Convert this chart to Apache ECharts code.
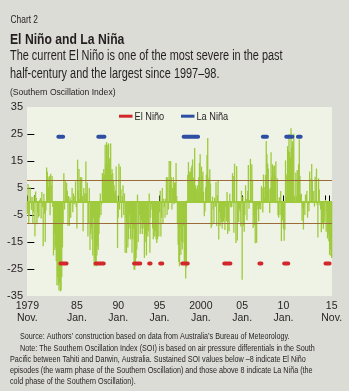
<!DOCTYPE html>
<html>
<head>
<meta charset="utf-8">
<script src="https://cdn.jsdelivr.net/npm/echarts@6/dist/echarts.min.js"></script>
<style>
  html, body { margin: 0; padding: 0; background: #dcdcd6; }
  #chart { width: 349px; height: 391px; }
</style>
</head>
<body>
<div id="chart"></div>
<script>
// Monthly Southern Oscillation Index, January 1979 to November 2015 (one row per year)
const START_YEAR = 1979;
const soi = [
  -4.5, 6.5, -8, -5.3, 5.4, 1.8, -3.1, 1.7, -8, -4, 2, -12.9,            // 1979
  3.7, 1.3, -8.4, -4, -5.9, -5.5, 0.6, 1.3, -6.3, 3.5, -2.1, -16.6,       // 1980
  2.9, -4.6, -15, -3.3, 12.6, 11, 9, 5.5, 9.5, -5.1, 10.3, 5.9,           // 1981
  9.4, -2, -20, -12, -18, -17, -22, -31, -28, -31, -33, -30,              // 1982
  -33.3, -33, -28, -17, -8, 10.5, -3, 8, 2, 7, 4, -9,                     // 1983
  2, -9, 1.5, -6, 0.5, 5, -4, 3, -1, 2, 7.5, -2,                          // 1984
  -10, 15.5, 4, 12, 1, 9, 3, 9, 2, -11, 5, 3,                             // 1985
  1, 14.8, 3, 7, -13, -8, 5, -18, -12, -10, -14, -20,                     // 1986
  -6, -24, -21, -23, -24, -20, -16.6, -18, -12, -6, 3, -5,                // 1987
  -1, 10.5, 9, 12, 10, 21, 14, 22, 21, 14, 21.5, 16,                      // 1988
  13, 21.5, 10, 12, 10.5, 8, 6, 3, 4, 13, 2, -17.2,                       // 1989
  -6, 14, -3, 13, 4.5, -6, 2, 6, -5, 3, -19, -6,                          // 1990
  -19.1, -8, -17, -14, -5, -10, -14, -8, -19, -14, -10, -25.3,            // 1991
  -25.3, -23, -21, -17.8, 2.5, -15, -8, -5, -12, -10, -7, -12,            // 1992
  -10, -8, -20.9, -15, -12, -20, -10, -13, -11, 3, -19, -6,               // 1993
  -1, -3, -10, -14, -5, -13, -11, -14, -15.4, -14, -8, -13,               // 1994
  -4, 4, -13, -6, 5, -8, 1, -2, -6, 1, 9, -5,                             // 1995
  9, -3, 15, 6, 15, 9, -3, 5, 9, -1, 7, 7,                                // 1996
  14.3, 2, -8, -16, -22.4, -24, -9.5, -19.8, -14.8, -17.8, -15.2, -9.1,   // 1997
  -23.5, -19.2, -28.5, -24.4, 0.5, 9.9, 14.6, 9.8, 11.1, 10.9, 12.5, 13.3,// 1998
  15.6, 8.6, 8.9, 19.8, 6, 1, 4.8, 6, 3, 9.1, 14.3, 17.5,                 // 1999
  5.1, 12.9, 9.4, 11, 3.6, -5.5, -3.7, 5.3, 9.9, 17.2, 23.5, 7.7,         // 2000
  8.9, 11.9, 6.7, -9.8, -9, 1.8, -3, -8.2, 1.4, -1.9, 7.2, -9.1,          // 2001
  2.3, 7.7, -14.1, -3.8, -9, -6.3, -7.6, -10, -7.6, -7.4, -6, -10.6,      // 2002
  -2, -7.4, 3.5, -12, -7.4, -11, 2.9, -1.8, -2.2, -1.9, 10.5, 9.4,        // 2003
  -11.6, 14, 0.2, -15.4, 13.1, -14.4, -6.9, -7.6, -2.8, -3.7, -9.3, 4,    // 2004
  -29, 1.8, -9, -11.2, -5, 6, 0.9, -6.9, 3.9, 13.5, -2.7, 0.6,            // 2005
  15.8, 0.1, 13.8, 8, -9.8, -5.5, -8.9, -15.5, -5.1, -15.3, -1.4, -3,     // 2006
  -7.3, -2.7, -1.4, -3, 5.7, 5, -4.1, 10, 1.5, 5.4, 9.8, 22.4,            // 2007
  17.5, 14, 12.2, 4.5, -4.3, 5.1, 18.2, 9.1, 13.8, 13.1, 10, 13.3,        // 2008
  9.4, 14.8, 0.2, 8.6, -5.1, -6, 1.6, -5, 3.9, -14.7, -6, -7,             // 2009
  -10.1, -14.5, -10.6, 15.2, 10, 1.8, 20.5, 18.8, 24.9, 18.3, 16.4, 27.1, // 2010
  19.9, 22.3, 21.4, 25.1, 2.1, 0.2, 10.7, 2.1, 11.7, 7.3, 13.8, 23,       // 2011
  9.4, 2.5, 2.9, -7.1, -2.7, -10.4, -1.8, -5, 2.6, 2.4, 3.9, -6,          // 2012
  -1.1, -3.6, 11.1, 0.2, 8.4, 13.9, 8.1, -0.5, 3.9, -1.9, 9.2, 0.6,       // 2013
  12.2, -1.3, -13.3, 8.6, 4.4, -1.5, -3, -11.4, -7.6, -8, -10.1, -5.4,    // 2014
  -7.8, 0.6, -11.2, -3.8, -13.7, -12, -14.7, -19.8, -17.8, -20.2, -20.9   // 2015
];

// Episode markers (first and last month of each run)
const elNinoPeriods = [
  ['1983-01', '1983-10'], ['1987-04', '1988-04'], ['1991-12', '1992-09'],
  ['1993-10', '1993-12'], ['1995-02', '1995-05'], ['1997-10', '1998-06'],
  ['2002-11', '2003-08'], ['2007-02', '2007-05'], ['2010-02', '2010-08'],
  ['2015-02', '2015-08']
];
const laNinaPeriods = [
  ['1982-10', '1983-01'], ['1983-03', '1983-05'], ['1987-08', '1988-05'],
  ['1997-12', '1999-09'], ['2000-06', '2000-07'], ['2007-07', '2008-01'],
  ['2008-09', '2008-10'], ['2010-05', '2011-02'], ['2011-10', '2012-02']
];
const EL_NINO_LEVEL = -23;
const LA_NINA_LEVEL = 24;
const THRESHOLDS = [8, -8];

// Axis ticks and labels
const yTickValues = [-25, -15, -5, 5, 15, 25];
const yLabelValues = [-35, -25, -15, -5, 5, 15, 25, 35];
const xTickMonths = ['1979-01', '1979-11', '1985-01', '1990-01', '1995-01', '2000-01', '2005-01', '2010-01', '2015-01', '2015-08'];
const xLabelMonths = ['1979-01', '1985-01', '1990-01', '1995-01', '2000-01', '2005-01', '2010-01', '2015-11'];
const xLabelYears = ['1979', '85', '90', '95', '2000', '05', '10', '15'];
const xLabelSubs = ['Nov.', 'Jan.', 'Jan.', 'Jan.', 'Jan.', 'Jan.', 'Jan.', 'Nov.'];

const FONT = "'Liberation Sans', Arial, sans-serif";
const TEXT = '#231f20';
const GREEN = '#9fca3c';
const RED = '#d2282c';
const BLUE = '#2d4ea2';
const BROWN = '#9c6c38';
const NARROW = 0.8;   // horizontal squeeze for the condensed typeface look

function monthIndex(s) {
  const [y, m] = s.split('-').map(Number);
  return (y - START_YEAR) * 12 + (m - 1);
}
function periodLine(periods, level) {
  const out = [];
  periods.forEach(([a, b]) => {
    out.push([monthIndex(a), level], [monthIndex(b), level], [monthIndex(b) + 0.5, null]);
  });
  return out;
}
const xLabelMap = {};
xLabelMonths.forEach((m, i) => { xLabelMap[monthIndex(m)] = xLabelYears[i] + '\n' + xLabelSubs[i]; });

const noteLines = [
  ['Source: Authors\u2019 construction based on data from Australia\u2019s Bureau of Meteorology.', 20],
  ['Note: The Southern Oscillation Index (SOI) is based on air pressure differentials in the South', 20],
  ['Pacific between Tahiti and Darwin, Australia. Sustained SOI values below \u20138 indicate El Ni\u00f1o', 10],
  ['episodes (the warm phase of the Southern Oscillation) and those above 8 indicate La Ni\u00f1a (the', 10],
  ['cold phase of the Southern Oscillation).', 10]
];

function txt(x, y, text, font, sx) {
  return { type: 'text', x: x, y: y, scaleX: sx, silent: true,
    style: { text: text, font: font, fill: TEXT, verticalAlign: 'top', align: 'left' } };
}

const graphics = [
  txt(10.5, 14.5, 'Chart 2', '10.5px ' + FONT, NARROW),
  txt(10, 32, 'El Ni\u00f1o and La Ni\u00f1a', 'bold 14.5px ' + FONT, 0.84),
  txt(10, 49.5, 'The current El Ni\u00f1o is one of the most severe in the past', '14px ' + FONT, 0.78),
  txt(10, 67.5, 'half-century and the largest since 1997\u201398.', '14px ' + FONT, 0.78),
  txt(10, 87.5, '(Southern Oscillation Index)', '9.5px ' + FONT, 0.9)
];
noteLines.forEach(([t, x], i) => graphics.push(txt(x, 332.5 + i * 11.1, t, '9px ' + FONT, 0.8)));

// legend drawn as swatch + squeezed label, matching the condensed type
const legendItems = [['El Ni\u00f1o', RED, 119], ['La Ni\u00f1a', BLUE, 181]];
legendItems.forEach(([name, color, x]) => {
  graphics.push({ type: 'rect', silent: true, shape: { x: x, y: 114.7, width: 13.5, height: 3 }, style: { fill: color } });
  graphics.push(txt(x + 15.5, 110.5, name, '11.5px ' + FONT, 0.8));
});

const chart = echarts.init(document.getElementById('chart'), null, { renderer: 'canvas' });
chart.setOption({
  animation: false,
  backgroundColor: '#dcdcd6',
  textStyle: { fontFamily: FONT },
  grid: { left: 27, right: 17, top: 107, bottom: 95, show: true, backgroundColor: '#eef3e6', borderWidth: 0 },
  xAxis: {
    type: 'value', min: -0.5, max: soi.length - 0.5,
    splitLine: { show: false },
    axisLine: { show: false },
    axisTick: { show: true, inside: true, length: 6, lineStyle: { color: '#000', width: 1 },
      customValues: xTickMonths.map(monthIndex) },
    axisLabel: { show: true, margin: 4, fontFamily: FONT, fontSize: 10.5, lineHeight: 12, color: TEXT,
      customValues: xLabelMonths.map(monthIndex),
      formatter: v => xLabelMap[Math.round(v)] || '' }
  },
  yAxis: {
    type: 'value', min: -35, max: 35,
    splitLine: { show: false },
    axisLine: { show: false },
    axisTick: { show: true, inside: true, length: 7, lineStyle: { color: '#000', width: 1 }, customValues: yTickValues },
    axisLabel: { margin: 4, fontFamily: FONT, fontSize: 11, color: TEXT, customValues: yLabelValues }
  },
  graphic: graphics,
  series: [
    {
      name: 'SOI', type: 'bar', data: soi.map((v, i) => [i, v]),
      barWidth: 1.3, itemStyle: { color: GREEN }, silent: true,
      markLine: {
        silent: true, symbol: ['none', 'none'], label: { show: false }, animation: false,
        data: [
          { yAxis: 0, lineStyle: { color: GREEN, width: 2, type: 'solid' } },
          { yAxis: THRESHOLDS[0], lineStyle: { color: BROWN, width: 1, type: 'solid' } },
          { yAxis: THRESHOLDS[1], lineStyle: { color: BROWN, width: 1, type: 'solid' } }
        ]
      }
    },
    {
      name: 'El Ni\u00f1o', type: 'line', data: periodLine(elNinoPeriods, EL_NINO_LEVEL),
      symbol: 'none', connectNulls: false, silent: true, z: 5,
      lineStyle: { color: RED, width: 4, cap: 'round' }, itemStyle: { color: RED }
    },
    {
      name: 'La Ni\u00f1a', type: 'line', data: periodLine(laNinaPeriods, LA_NINA_LEVEL),
      symbol: 'none', connectNulls: false, silent: true, z: 5,
      lineStyle: { color: BLUE, width: 4, cap: 'round' }, itemStyle: { color: BLUE }
    }
  ]
});
</script>
</body>
</html>
